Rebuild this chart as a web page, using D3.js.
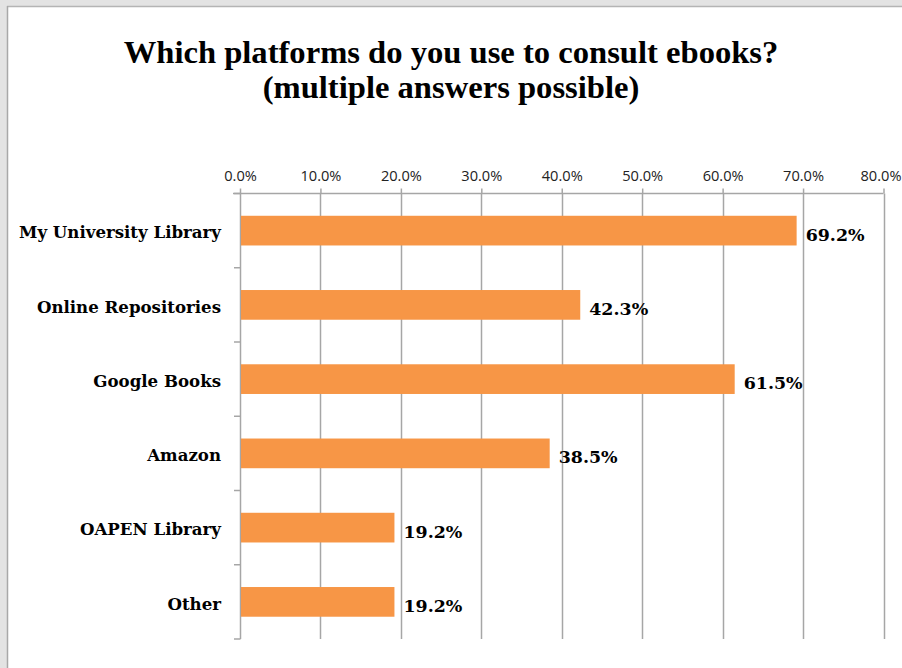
<!DOCTYPE html>
<html><head><meta charset="utf-8">
<script src="https://cdn.jsdelivr.net/npm/d3@7"></script>
<style>body{margin:0;background:#fff}svg{display:block}</style>
</head><body>
<svg id="c" width="902" height="668"></svg>
<script>
const categories = ["My University Library","Online Repositories","Google Books","Amazon","OAPEN Library","Other"];
const values = [69.2, 42.3, 61.5, 38.5, 19.2, 19.2];
const tickValues = [0,10,20,30,40,50,60,70,80];
const titleLines = ["Which platforms do you use to consult ebooks?","(multiple answers possible)"];

const svg = d3.select("#c");
// fit a font size so that sample text has the target width
function fitSize(family, weight, sample, target) {
  const t = svg.append("text").attr("font-family",family).attr("font-weight",weight).attr("font-size",100).text(sample);
  const w = t.node().getComputedTextLength();
  t.remove();
  return 100*target/w;
}

// window frame
svg.append("rect").attr("x",0).attr("y",0).attr("width",902).attr("height",7).attr("fill","#e3e3e3");
svg.append("rect").attr("x",0).attr("y",0).attr("width",7).attr("height",668).attr("fill","#e3e3e3");
svg.append("line").attr("x1",7).attr("x2",902).attr("y1",6.5).attr("y2",6.5).attr("stroke","#b4b4b4").attr("stroke-width",1.5);
svg.append("line").attr("x1",7.5).attr("x2",7.5).attr("y1",6).attr("y2",668).attr("stroke","#a8a8a8").attr("stroke-width",1.5);

const x = d3.scaleLinear().domain([0,80]).range([240,883.5]);
const y = d3.scaleBand().domain(categories).range([193.5,639]).paddingInner(0.6).paddingOuter(0.3);

const serif = "'DejaVu Serif', 'Liberation Serif', serif";
const titleSerif = "'Liberation Serif', 'DejaVu Serif', serif";
const sans = "'Open Sans', 'Liberation Sans', sans-serif";
// title
const titleSize = fitSize(titleSerif, "bold", titleLines[0], 655);
titleLines.forEach((t,i)=>{
  svg.append("text").attr("x",451).attr("y",63+i*35).attr("text-anchor","middle")
    .attr("font-family",titleSerif).attr("font-weight","bold").attr("font-size",titleSize)
    .attr("fill","#000").text(t);
});

// gridlines
svg.append("g").selectAll("line").data(tickValues.slice(1)).join("line")
  .attr("x1",d=>Math.round(x(d))+0.5).attr("x2",d=>Math.round(x(d))+0.5)
  .attr("y1",193.5).attr("y2",639).attr("stroke","#a6a6a6").attr("stroke-width",1.5);

// top axis
const tickSize = fitSize(sans, "normal", "10.0%", 41);
const ax = svg.append("g").attr("transform","translate(0,193.5)")
  .call(d3.axisTop(x).tickValues(tickValues).tickFormat(d=>d.toFixed(1)+"%").tickSizeInner(5).tickSizeOuter(0));
ax.select(".domain").attr("stroke","#a6a6a6").attr("stroke-width",1.5).attr("d","M233,0H883.5");
ax.selectAll(".tick line").attr("stroke","#a6a6a6").attr("stroke-width",1.5);
ax.selectAll(".tick text").attr("font-family",sans).attr("font-size",tickSize)
  .attr("fill","#222").attr("y",-17).attr("dy","0.32em")
  .attr("dx",d=>d===80?-3:0);

// left axis with ticks at band boundaries
const bounds = categories.map(c=>y(c)-y.step()*y.paddingInner()/2);
bounds.push(639);
svg.append("line").attr("x1",240.5).attr("x2",240.5).attr("y1",193.5).attr("y2",639).attr("stroke","#a6a6a6").attr("stroke-width",1.5);
svg.append("g").selectAll("line").data(bounds).join("line")
  .attr("x1",234).attr("x2",240.5).attr("y1",d=>d).attr("y2",d=>d).attr("stroke","#a6a6a6").attr("stroke-width",1.5);

// bars
svg.append("g").selectAll("rect").data(values).join("rect")
  .attr("x",x(0)+1).attr("y",(d,i)=>y(categories[i])).attr("width",d=>x(d)-x(0)-1).attr("height",y.bandwidth())
  .attr("fill","#F79646");

// category labels
const catSize = fitSize(serif, "bold", categories[0], 202);
svg.append("g").selectAll("text").data(categories).join("text")
  .attr("x",221).attr("y",d=>y(d)+y.bandwidth()/2+2).attr("dy","0.35em").attr("text-anchor","end")
  .attr("font-family",serif).attr("font-weight","bold").attr("font-size",catSize).attr("fill","#000").text(d=>d);

// value labels
const valSize = fitSize(serif, "bold", "69.2%", 59);
svg.append("g").selectAll("text").data(values).join("text")
  .attr("x",d=>x(d)+9).attr("y",(d,i)=>y(categories[i])+y.bandwidth()/2+4).attr("dy","0.35em")
  .attr("font-family",serif).attr("font-weight","bold").attr("font-size",valSize).attr("fill","#000").text(d=>d.toFixed(1)+"%");
</script>
</body></html>
